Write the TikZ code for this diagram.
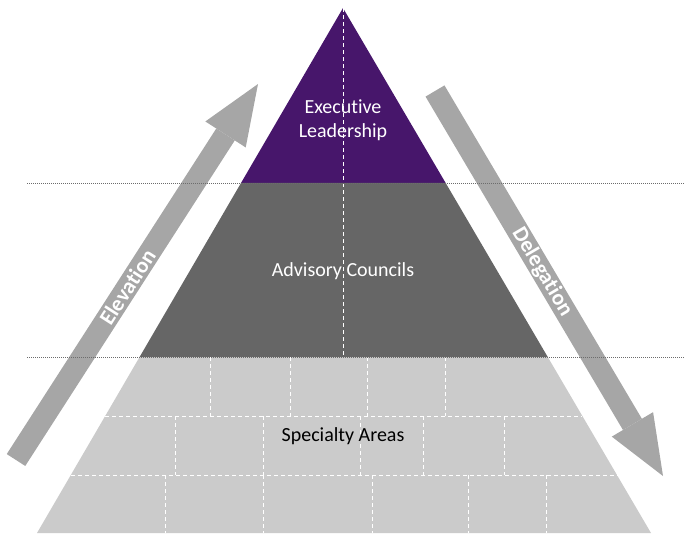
\documentclass[tikz,border=0pt]{standalone}
\usepackage{fontspec}
\setmainfont{Carlito}[Ligatures=NoCommon]
\usepackage{xcolor}
\usepackage{tikz}
\usetikzlibrary{calc, arrows.meta}

\definecolor{tim}{HTML}{47166B}
\definecolor{xamdam}{HTML}{666666}
\definecolor{xamnhat}{HTML}{CBCBCB}
\definecolor{xammuiten}{HTML}{A6A6A6}

\begin{document}
\begin{tikzpicture}[x=1pt, y=-1pt,
    gach/.style={white, line width=0.9pt, dash pattern=on 4pt off 3pt},
    cham/.style={gray!85!black, line width=1pt, dash pattern=on 1.2pt off 0.8pt},
    muiten/.style={xammuiten, line width=22pt,
        -{Triangle[length=60pt, width=48pt, line width=0pt]}},
    chu/.style={font=\fontsize{20}{24}\selectfont, align=center},
    chuten/.style={text=white, font=\bfseries\fontsize{22}{26}\selectfont}]
    \useasboundingbox (0,0) rectangle (684,533);

    % 1. Đỉnh và các điểm chia tầng
    \coordinate (A) at (343,8);
    \coordinate (B) at (37,533);
    \coordinate (C) at (651,533);
    \coordinate (B1) at ($(A)!0.3333!(B)$);
    \coordinate (C1) at ($(A)!0.3333!(C)$);
    \coordinate (B2) at ($(A)!0.6648!(B)$);
    \coordinate (C2) at ($(A)!0.6648!(C)$);
    \coordinate (B3) at ($(A)!0.7771!(B)$);
    \coordinate (C3) at ($(A)!0.7771!(C)$);
    \coordinate (B4) at ($(A)!0.8895!(B)$);
    \coordinate (C4) at ($(A)!0.8895!(C)$);

    % 2. Tô ba tầng
    \fill[tim] (A) -- (B1) -- (C1) -- cycle;
    \fill[xamdam] (B1) -- (B2) -- (C2) -- (C1) -- cycle;
    \fill[xamnhat] (B2) -- (B) -- (C) -- (C2) -- cycle;

    % 3. Gạch ở tầng dưới và trục giữa
    \draw[gach] (B3) -- (C3);
    \draw[gach] (B4) -- (C4);
    \foreach \x in {210,290,367,445} \draw[gach] (\x,357) -- (\x,416);
    \foreach \x in {175,263,360,423,504} \draw[gach] (\x,416) -- (\x,475);
    \foreach \x in {165,263,372,468,546} \draw[gach] (\x,475) -- (\x,533);
    \draw[gach] (A) -- (343,357);

    % 4. Mũi tên hai bên
    \coordinate (E1) at (16,460);
    \coordinate (E2) at (258,84);
    \coordinate (D1) at (435,91);
    \coordinate (D2) at (663,476);
    \draw[muiten] (E1) -- (E2)
        node[pos=0.46, sloped, chuten] (nang) {Elevation};
    \draw[muiten] (D1) -- (D2)
        node[pos=0.47, sloped, chuten] (giao) {Delegation};

    % 5. Đường chấm ngang
    \draw[cham] (27,183) -- (684,183);
    \draw[cham] (27,357) -- (684,357);

    % 6. Tên các tầng
    \node[chu, text=white] (dieuhanh) at (343,120) {Executive\\Leadership};
    \node[chu, text=white] (tuvan) at (343,271) {Advisory Councils};
    \node[chu, text=black] (chuyenmon) at (343,436) {Specialty Areas};
\end{tikzpicture}
\end{document}
